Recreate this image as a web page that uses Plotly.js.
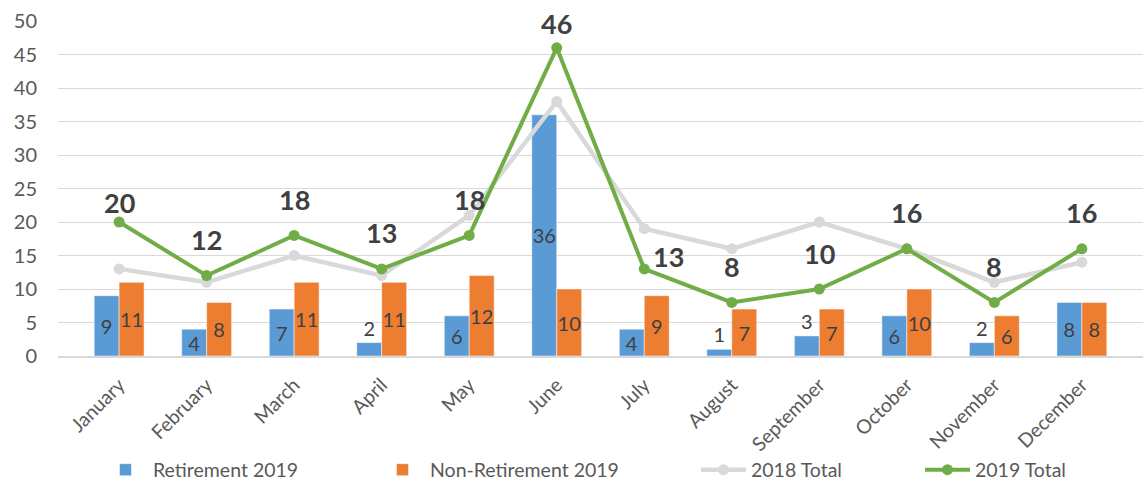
<!DOCTYPE html>
<html>
<head>
<meta charset="utf-8">
<script src="https://cdn.plot.ly/plotly-3.0.1.min.js"></script>
<style>
  html, body { margin: 0; padding: 0; background: #ffffff; }
  #chart { width: 1146px; height: 481px; }
</style>
</head>
<body>
<div id="chart"></div>
<script>
// ---- Data ----
const months = ["January", "February", "March", "April", "May", "June", "July", "August", "September", "October", "November", "December"];
const retirement2019 = [9, 4, 7, 2, 6, 36, 4, 1, 3, 6, 2, 8];
const nonRetirement2019 = [11, 8, 11, 11, 12, 10, 9, 7, 7, 10, 6, 8];
const total2018 = [13, 11, 15, 12, 21, 38, 19, 16, 20, 16, 11, 14];
const total2019 = [20, 12, 18, 13, 18, 46, 13, 8, 10, 16, 8, 16];

// ---- Styling ----
const FONT = "Lato, 'Open Sans', sans-serif";
const labelColor = "#404040";
const axisText = "#595959";
const gridColor = "#d9d9d9";

function barTextPos(vals) { return vals.map(v => v >= 4 ? "inside" : "outside"); }

const barText = { family: FONT, size: 20, color: labelColor };

const traces = [
  {
    type: "bar", name: "Retirement 2019", x: months, y: retirement2019, legend: "legend",
    marker: { color: "#5b9bd5", line: { color: "#ffffff", width: 0.5 } },
    text: retirement2019.map(String), textposition: barTextPos(retirement2019),
    insidetextanchor: "middle", constraintext: "none", cliponaxis: false,
    textfont: barText, insidetextfont: barText, outsidetextfont: barText,
    textangle: 0, hoverinfo: "x+y"
  },
  {
    type: "bar", name: "Non-Retirement 2019", x: months, y: nonRetirement2019, legend: "legend2",
    marker: { color: "#ed7d31", line: { color: "#ffffff", width: 0.5 } },
    text: nonRetirement2019.map(String), textposition: barTextPos(nonRetirement2019),
    insidetextanchor: "middle", constraintext: "none", cliponaxis: false,
    textfont: barText, insidetextfont: barText, outsidetextfont: barText,
    textangle: 0, hoverinfo: "x+y"
  },
  {
    type: "scatter", mode: "lines+markers", name: "2018 Total", x: months, y: total2018, legend: "legend3",
    line: { color: "#d9d9d9", width: 4.5 },
    marker: { color: "#d9d9d9", size: 11 }, cliponaxis: false
  },
  {
    type: "scatter", mode: "lines+markers", name: "2019 Total", x: months, y: total2019, legend: "legend4",
    line: { color: "#70ad47", width: 4 },
    marker: { color: "#70ad47", size: 11 }, cliponaxis: false
  }
];

// label offsets (pixels) for the bold 2019 total labels
const defaultShift = { x: 0, y: 36 };
const labelShifts = { "January": { x: 0, y: 20 }, "June": { x: 0, y: 24 }, "July": { x: 24, y: 12 } };

const annotations = months.map((m, i) => {
  const s = labelShifts[m] || defaultShift;
  return {
    x: m, y: total2019[i], xref: "x", yref: "y",
    text: "<b>" + total2019[i] + "</b>", showarrow: false,
    xshift: s.x, yshift: s.y,
    font: { family: FONT, size: 27, color: labelColor }
  };
});

function legendAt(px) {
  return {
    orientation: "h", xref: "container", yref: "container",
    x: px / 1146, xanchor: "left", y: 11 / 481, yanchor: "middle",
    font: { family: FONT, size: 19.5, color: axisText },
    itemwidth: 45, bgcolor: "rgba(0,0,0,0)"
  };
}

const layout = {
  width: 1146, height: 481,
  margin: { l: 58, r: 3, t: 21, b: 125 },
  paper_bgcolor: "#ffffff", plot_bgcolor: "#ffffff",
  barmode: "group", bargap: 0.43, bargroupgap: 0,
  showlegend: true,
  legend: legendAt(98),
  legend2: legendAt(375),
  legend3: legendAt(696),
  legend4: legendAt(920),
  xaxis: {
    type: "category", tickangle: -45,
    tickfont: { family: FONT, size: 19.5, color: axisText },
    showgrid: false, zeroline: false,
    showline: true, linecolor: gridColor, linewidth: 2,
    ticks: "", ticklabelstandoff: 8, automargin: false
  },
  yaxis: {
    range: [0, 50], dtick: 5, tick0: 0,
    tickfont: { family: FONT, size: 20, color: axisText },
    showgrid: true, gridcolor: gridColor, gridwidth: 1.3,
    zeroline: false, showline: false, ticks: "",
    ticklabelstandoff: 20, automargin: false
  },
  annotations: annotations,
  hovermode: "closest"
};

Plotly.newPlot("chart", traces, layout, { displayModeBar: false });
</script>
</body>
</html>
